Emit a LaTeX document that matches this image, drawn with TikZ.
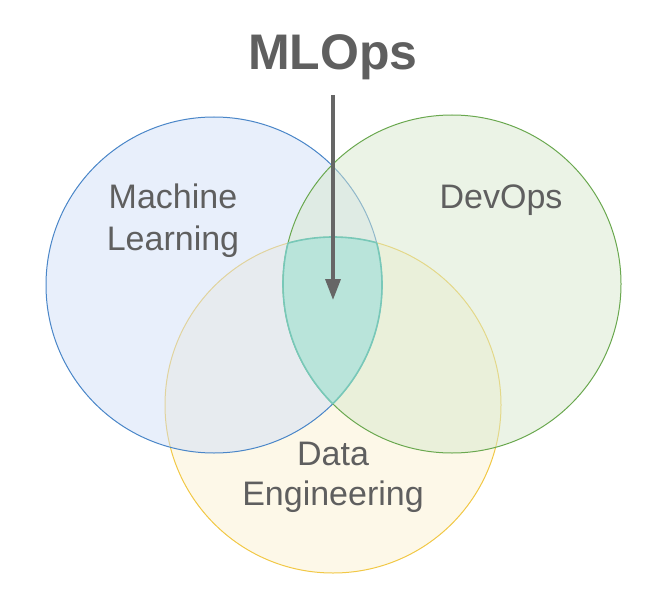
\documentclass[tikz,border=0pt]{standalone}
\usepackage{fontspec}
\setmainfont{Liberation Sans}
\usetikzlibrary{arrows.meta}
\definecolor{mlfill}{RGB}{209,223,247}
\definecolor{devfill}{RGB}{215,232,205}
\definecolor{defill}{RGB}{252,242,210}
\definecolor{mlline}{RGB}{74,134,200}
\definecolor{devline}{RGB}{106,168,79}
\definecolor{deline}{RGB}{241,200,70}
\definecolor{core}{RGB}{185,228,218}
\definecolor{coreline}{RGB}{120,200,184}
\definecolor{txt}{RGB}{95,95,95}
\definecolor{arr}{RGB}{102,102,102}
\tikzset{
  setfill/.style={fill=#1, fill opacity=0.5},
  lbl/.style={text=txt, anchor=base, inner sep=0pt, font=\fontsize{34}{40}\selectfont},
}
\begin{document}
\begin{tikzpicture}[x=1pt,y=-1pt]
\useasboundingbox (0,0) rectangle (660,588);
\coordinate (cml) at (214,285);
\coordinate (cdev) at (452,284);
\coordinate (cde) at (333,405);
% sets
\fill[setfill=defill] (cde) circle[radius=168pt];
\draw[deline, line width=1pt] (cde) circle[radius=168pt];
\fill[setfill=mlfill] (cml) circle[radius=168pt];
\draw[mlline, line width=1pt] (cml) circle[radius=168pt];
\fill[setfill=devfill] (cdev) circle[radius=169pt];
\draw[devline, line width=1pt] (cdev) circle[radius=169pt];
% core intersection
\begin{scope}
  \clip (cml) circle[radius=168pt];
  \clip (cdev) circle[radius=169pt];
  \fill[core] (cde) circle[radius=168pt];
  \draw[coreline, line width=1.6pt] (cde) circle[radius=168pt];
\end{scope}
\begin{scope}
  \clip (cml) circle[radius=168pt];
  \clip (cde) circle[radius=168pt];
  \draw[coreline, line width=1.6pt] (cdev) circle[radius=169pt];
\end{scope}
\begin{scope}
  \clip (cdev) circle[radius=169pt];
  \clip (cde) circle[radius=168pt];
  \draw[coreline, line width=1.6pt] (cml) circle[radius=168pt];
\end{scope}
% labels
\node[lbl] (ml1) at (173,208) {Machine};
\node[lbl] (ml2) at (173,250) {Learning};
\node[lbl] (dev) at (501,208) {DevOps};
\node[lbl] (de1) at (333,465) {Data};
\node[lbl] (de2) at (333,505) {Engineering};
\node[text=txt, anchor=base, inner sep=0pt, font=\fontsize{50}{60}\selectfont\bfseries] (title) at (333,70) {MLOps};
% arrow
\coordinate (start) at (333,95);
\coordinate (tip) at (333,300);
\draw[arr, line width=3.5pt, -{Triangle[width=15pt,length=21pt]}] (start) -- (tip);
\end{tikzpicture}
\end{document}
